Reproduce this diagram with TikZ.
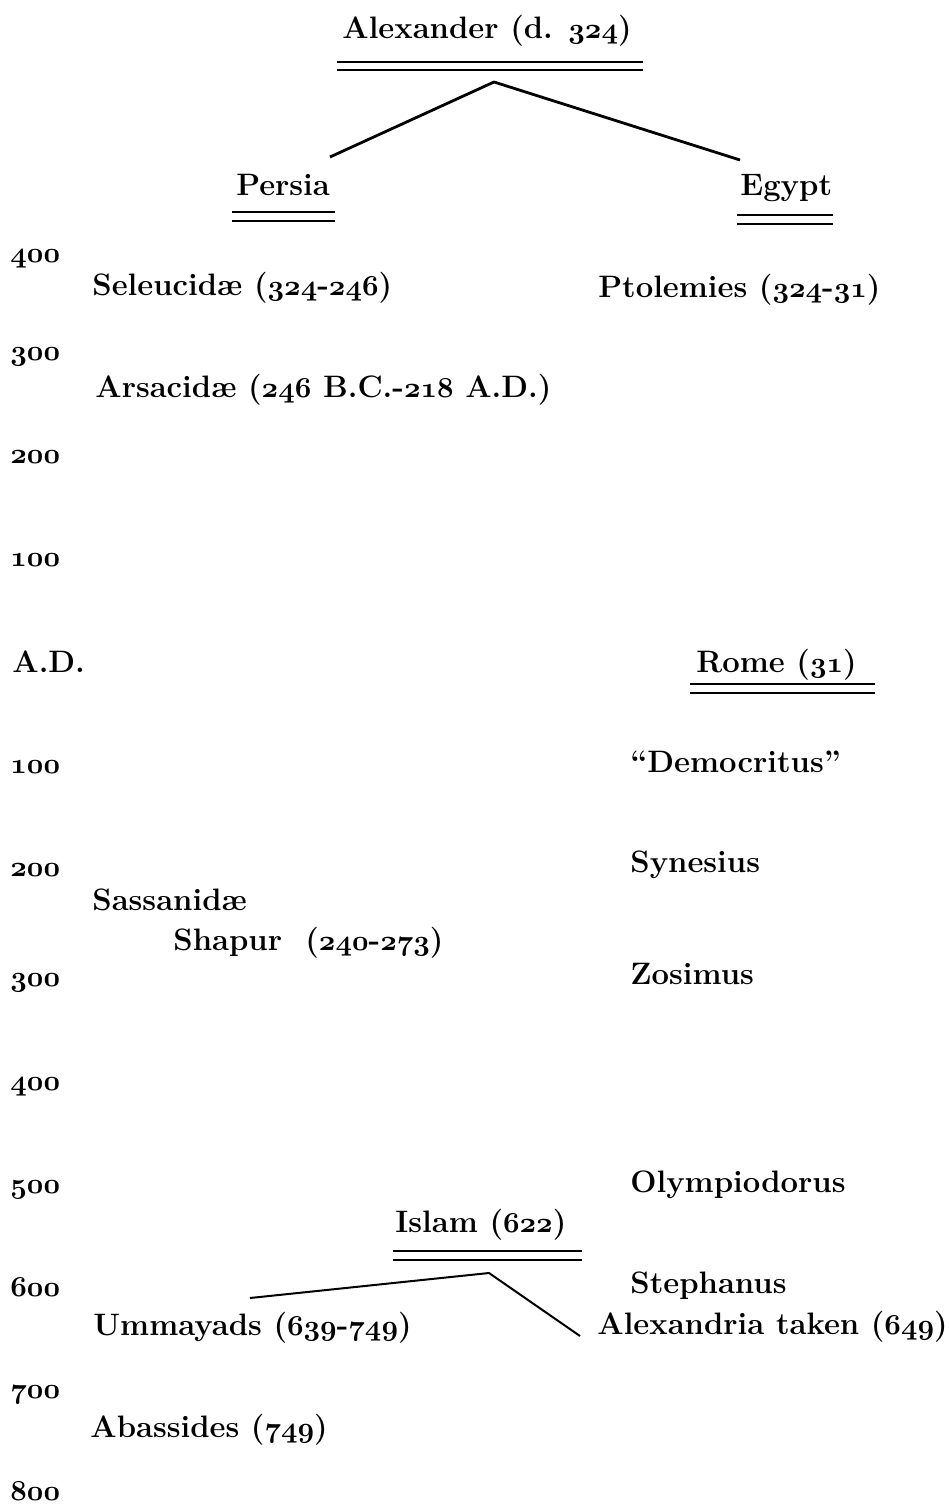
\documentclass[tikz,border=0pt]{standalone}
\newcommand{\osn}[1]{{\fontencoding{OML}\fontfamily{cmm}\fontseries{b}\fontshape{it}\selectfont #1}}
\tikzset{
  lbl/.style={anchor=base west, inner sep=0pt, font=\fontsize{15.5}{18}\selectfont\bfseries},
  yr/.style={anchor=base west, inner sep=0pt, font=\fontsize{15}{18}\selectfont\bfseries},
  rule/.style={line width=1.2pt},
  branch/.style={line width=1.4pt},
  thinbranch/.style={line width=1pt}
}
\begin{document}
\begin{tikzpicture}[x=0.5pt,y=-0.5pt]
\useasboundingbox (0,0) rectangle (948,1504);
% headings
\node[lbl] (alex) at (342,39) {Alexander (d. \osn{324})};
\draw[rule] (337,62) -- (643,62) (337,70) -- (643,70);
\node[lbl] (persia) at (236,195) {Persia};
\draw[rule] (232,212) -- (335,212) (232,221) -- (335,221);
\node[lbl] (egypt) at (740,195) {Egypt};
\draw[rule] (737,215) -- (833,215) (737,224) -- (833,224);
\coordinate (alexapex) at (494,82);
\coordinate (persiatop) at (330,157);
\coordinate (egypttop) at (740,160);
\draw[branch] (persiatop) -- (alexapex) -- (egypttop);
% axis
\node[yr] (y1) at (10,262) {\osn{400}};
\node[yr] (y2) at (10,360) {\osn{300}};
\node[yr] (y3) at (10,463) {\osn{200}};
\node[yr] (y4) at (10,566) {\osn{100}};
\node[lbl] (ad) at (12,672) {A.D.};
\node[yr] (y5) at (10,773) {\osn{100}};
\node[yr] (y6) at (10,876) {\osn{200}};
\node[yr] (y7) at (10,986) {\osn{300}};
\node[yr] (y8) at (10,1090) {\osn{400}};
\node[yr] (y9) at (10,1193) {\osn{500}};
\node[yr] (y10) at (10,1296) {\osn{600}};
\node[yr] (y11) at (10,1398) {\osn{700}};
\node[yr] (y12) at (10,1500) {\osn{800}};
% left column
\node[lbl] (seleu) at (92,295) {Seleucid\ae\ (\osn{324}-\osn{246})};
\node[lbl] (arsac) at (95,397) {Arsacid\ae\ (\osn{246} B.C.-\osn{218} A.D.)};
\node[lbl] (sassa) at (92,910) {Sassanid\ae};
\node[lbl] (shapur) at (173,950) {Shapur\ \ (\osn{240}-\osn{273})};
\node[lbl] (umma) at (93,1335) {Ummayads (\osn{639}-\osn{749})};
\node[lbl] (abass) at (90,1437) {Abassides (\osn{749})};
% right column
\node[lbl] (ptol) at (598,297) {Ptolemies (\osn{324}-\osn{31})};
\node[lbl] (rome) at (696,672) {Rome (\osn{31})};
\draw[rule] (690,684) -- (875,684) (690,693) -- (875,693);
\node[lbl] (democ) at (630,772) {``Democritus''};
\node[lbl] (synes) at (630,872) {Synesius};
\node[lbl] (zosim) at (630,984) {Zosimus};
\node[lbl] (olymp) at (630,1192) {Olympiodorus};
\node[lbl] (steph) at (630,1293) {Stephanus};
\node[lbl] (alexandria) at (597,1334) {Alexandria taken (\osn{649})};
% Islam
\node[lbl] (islam) at (395,1232) {Islam (\osn{622})};
\draw[rule] (393,1251) -- (582,1251) (393,1260) -- (582,1260);
\coordinate (islamapex) at (489,1273);
\coordinate (ummatop) at (250,1298);
\coordinate (alexandriatop) at (580,1336);
\draw[thinbranch] (ummatop) -- (islamapex) -- (alexandriatop);
\end{tikzpicture}
\end{document}
